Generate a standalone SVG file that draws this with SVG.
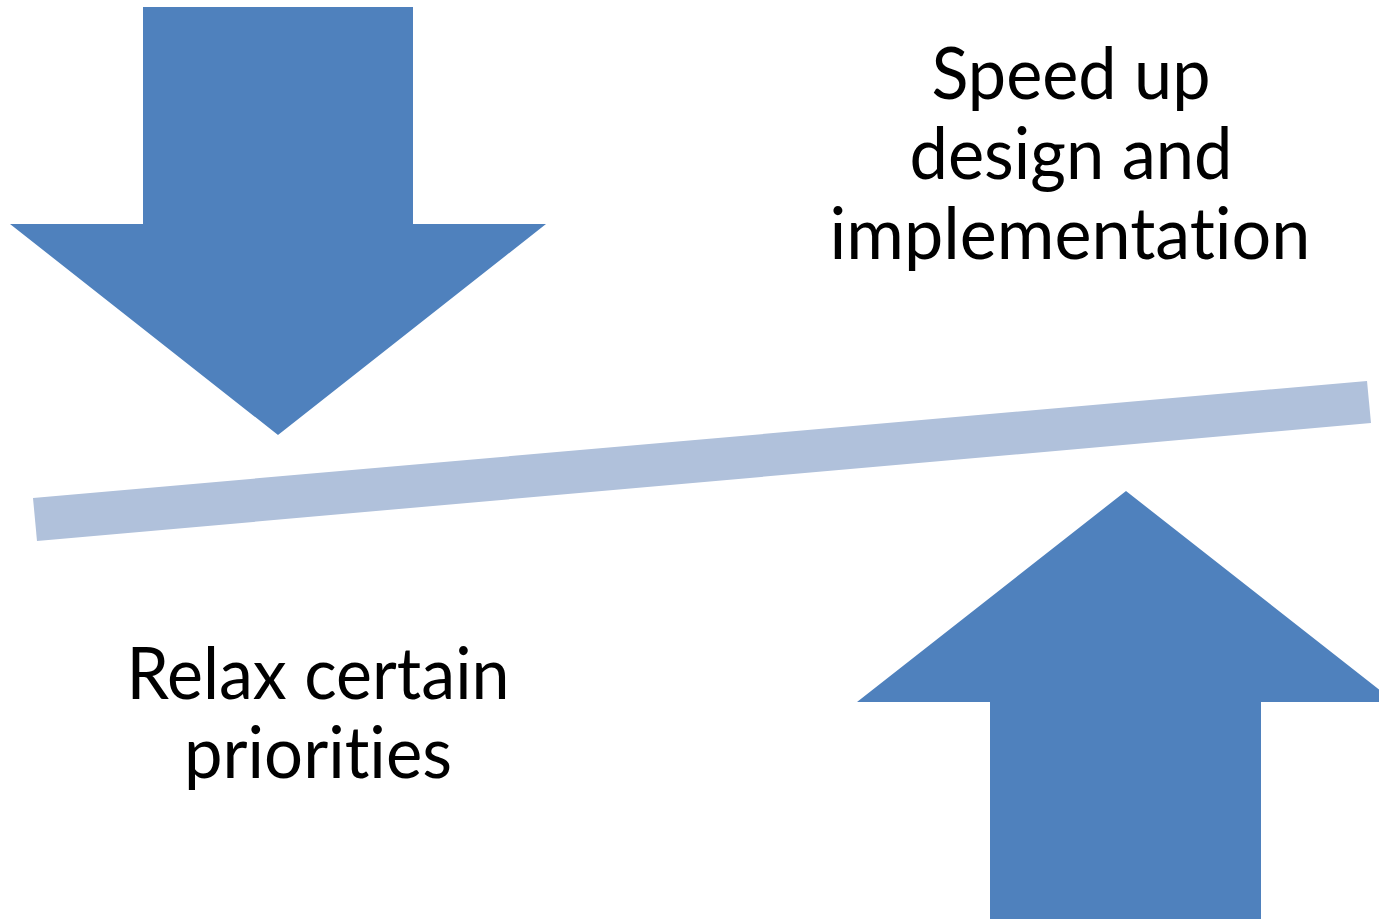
<svg xmlns="http://www.w3.org/2000/svg" width="1379" height="919" viewBox="0 0 1379 919">
  <style>
    .arrow { fill: #4F81BD; }
    .beam { fill: #B0C1DB; }
    .label { font-family: Lato, "Open Sans", "Liberation Sans", sans-serif; font-size: 71px; fill: #000; text-anchor: middle; font-variant-ligatures: none; font-feature-settings: "liga" 0, "clig" 0; }
  </style>
  <rect width="1379" height="919" fill="#FFFFFF"/>
  <!-- tilted balance beam -->
  <g id="beam">
    <polygon class="beam" points="33,498 1367,381 1371,423 37,541"/>
  </g>
  <!-- block arrow pressing down on the left -->
  <g id="arrow-down">
    <polygon class="arrow" points="143,7 413,7 413,224 546,224 278,435 10,224 143,224"/>
  </g>
  <!-- block arrow pushing up on the right -->
  <g id="arrow-up">
    <polygon class="arrow" points="1126,491 1395,702 1261,702 1261,919 990,919 990,702 857,702"/>
  </g>
  <g id="label-speed">
    <text class="label" x="1071" y="99" textLength="279" lengthAdjust="spacingAndGlyphs">Speed up</text>
    <text class="label" x="1071" y="179" textLength="323" lengthAdjust="spacingAndGlyphs">design and</text>
    <text class="label" x="1070" y="259" textLength="481" lengthAdjust="spacingAndGlyphs">implementation</text>
  </g>
  <g id="label-relax">
    <text class="label" x="318" y="699" textLength="383" lengthAdjust="spacingAndGlyphs">Relax certain</text>
    <text class="label" x="318" y="778" textLength="268" lengthAdjust="spacingAndGlyphs">priorities</text>
  </g>
</svg>
